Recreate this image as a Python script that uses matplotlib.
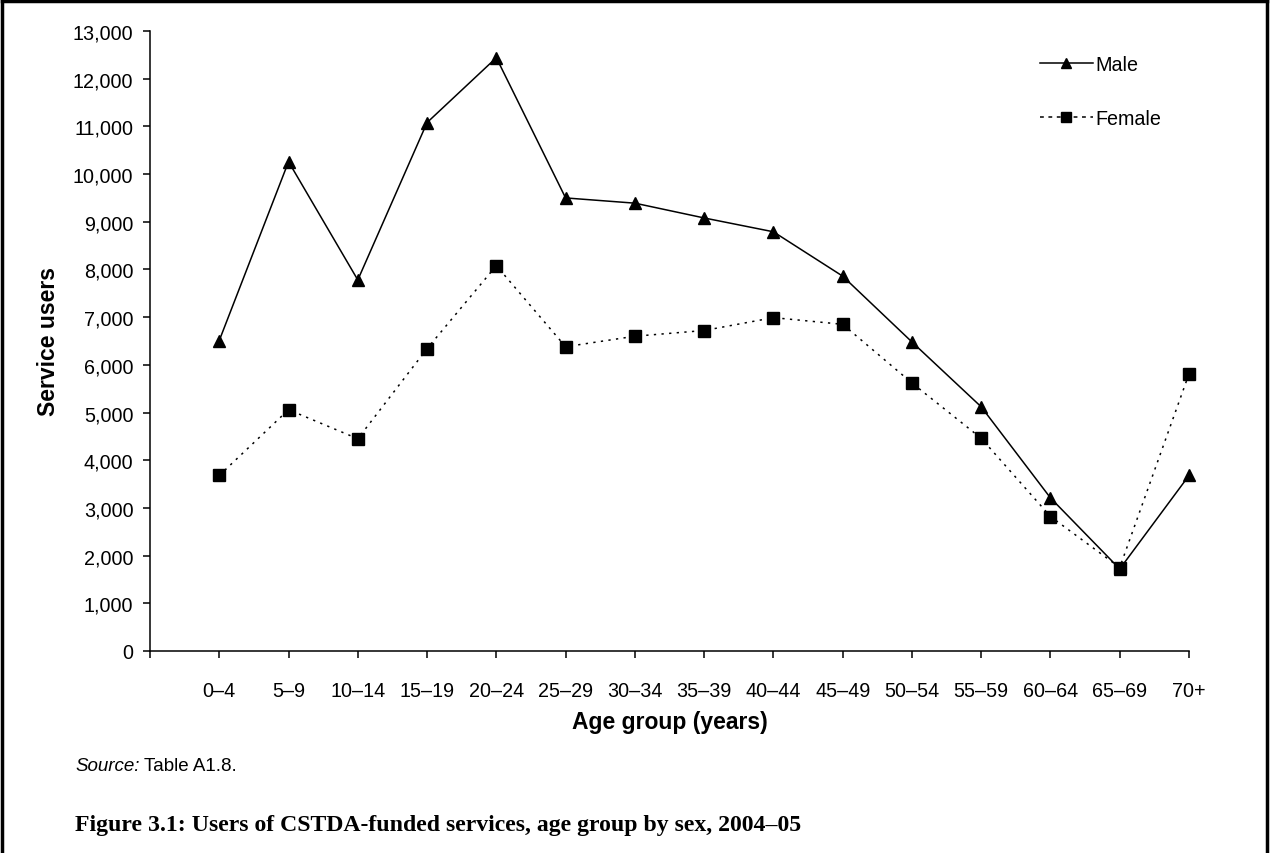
import matplotlib
matplotlib.use("Agg")
import matplotlib.pyplot as plt
from matplotlib.lines import Line2D
from matplotlib.ticker import FuncFormatter

plt.rcParams["font.family"] = "Liberation Sans"

age_groups = ["0–4", "5–9", "10–14", "15–19", "20–24", "25–29", "30–34", "35–39",
              "40–44", "45–49", "50–54", "55–59", "60–64", "65–69", "70+"]
male = [6510, 10260, 7780, 11080, 12440, 9500, 9390, 9080, 8790, 7860, 6480, 5120, 3210, 1720, 3680]
female = [3680, 5060, 4450, 6340, 8080, 6380, 6600, 6720, 6990, 6850, 5620, 4460, 2820, 1750, 5810]

W, H = 1270, 854
fig = plt.figure(figsize=(W / 100, H / 100), dpi=100)
ax = fig.add_axes([150 / W, 1 - 652 / H, (1189 - 150) / W, (652 - 32) / H])

x = list(range(len(age_groups)))
ax.plot(x, male, color="black", lw=1.1, marker="^", markersize=8.5, clip_on=False)
ax.plot(x, female, color="black", lw=1.1, linestyle=(0, (1.5, 3.5)), marker="s", markersize=8,
        clip_on=False)

ax.set_xlim(-1, len(age_groups) - 1)
ax.set_ylim(0, 13000)
ax.set_yticks(range(0, 13001, 1000))
ax.yaxis.set_major_formatter(FuncFormatter(lambda v, p: f"{int(v):,}"))
ax.set_xticks([-1] + x)
ax.set_xticklabels([""] + age_groups)

for side in ["top", "right"]:
    ax.spines[side].set_visible(False)
for side in ["left", "bottom"]:
    ax.spines[side].set_linewidth(1.1)
ax.tick_params(axis="both", direction="out", length=5, width=1.1, labelsize=14.2, colors="black")
ax.tick_params(axis="y", pad=7)
ax.tick_params(axis="x", pad=16.5)

ax.set_xlabel("Age group (years)", fontsize=16.5, fontweight="bold", labelpad=7)
ax.set_ylabel("Service users", fontsize=16.5, fontweight="bold", labelpad=9)

# legend handles drawn like the original (dashes show more clearly in the key)
handles = [
    Line2D([], [], color="black", lw=1.1, marker="^", markersize=7),
    Line2D([], [], color="black", lw=1.1, linestyle=(0, (2.5, 3)), marker="s", markersize=7.5),
]
ax.legend(handles, ["Male", "Female"], loc="upper left", bbox_to_anchor=(1022 / W, 1 - 38 / H),
          bbox_transform=fig.transFigure, frameon=False, fontsize=14.2,
          handlelength=2.7, handletextpad=0.1, labelspacing=1.8)

src = fig.text(75 / W, 1 - 767 / H, "Source:", fontsize=13.5, va="center", style="italic")
fig.canvas.draw()
bb = src.get_window_extent()
fig.text((bb.x1 + 5) / W, 1 - 767 / H, "Table A1.8.", fontsize=13.5, va="center")

fig.text(75 / W, 1 - 826 / H, "Figure 3.1: Users of CSTDA-funded services, age group by sex, 2004–05",
         fontsize=17.1, fontweight="bold", family="Liberation Serif", va="center")

# frame around the figure (open at the bottom)
fig.add_artist(Line2D([2 / W, 2 / W], [0, 1 - 2 / H], transform=fig.transFigure, color="black", lw=2.5))
fig.add_artist(Line2D([2 / W, 1267 / W], [1 - 2 / H, 1 - 2 / H], transform=fig.transFigure, color="black", lw=2.5))
fig.add_artist(Line2D([1267 / W, 1267 / W], [0, 1 - 2 / H], transform=fig.transFigure, color="black", lw=2.5))

fig.savefig("out.png", dpi=100)
